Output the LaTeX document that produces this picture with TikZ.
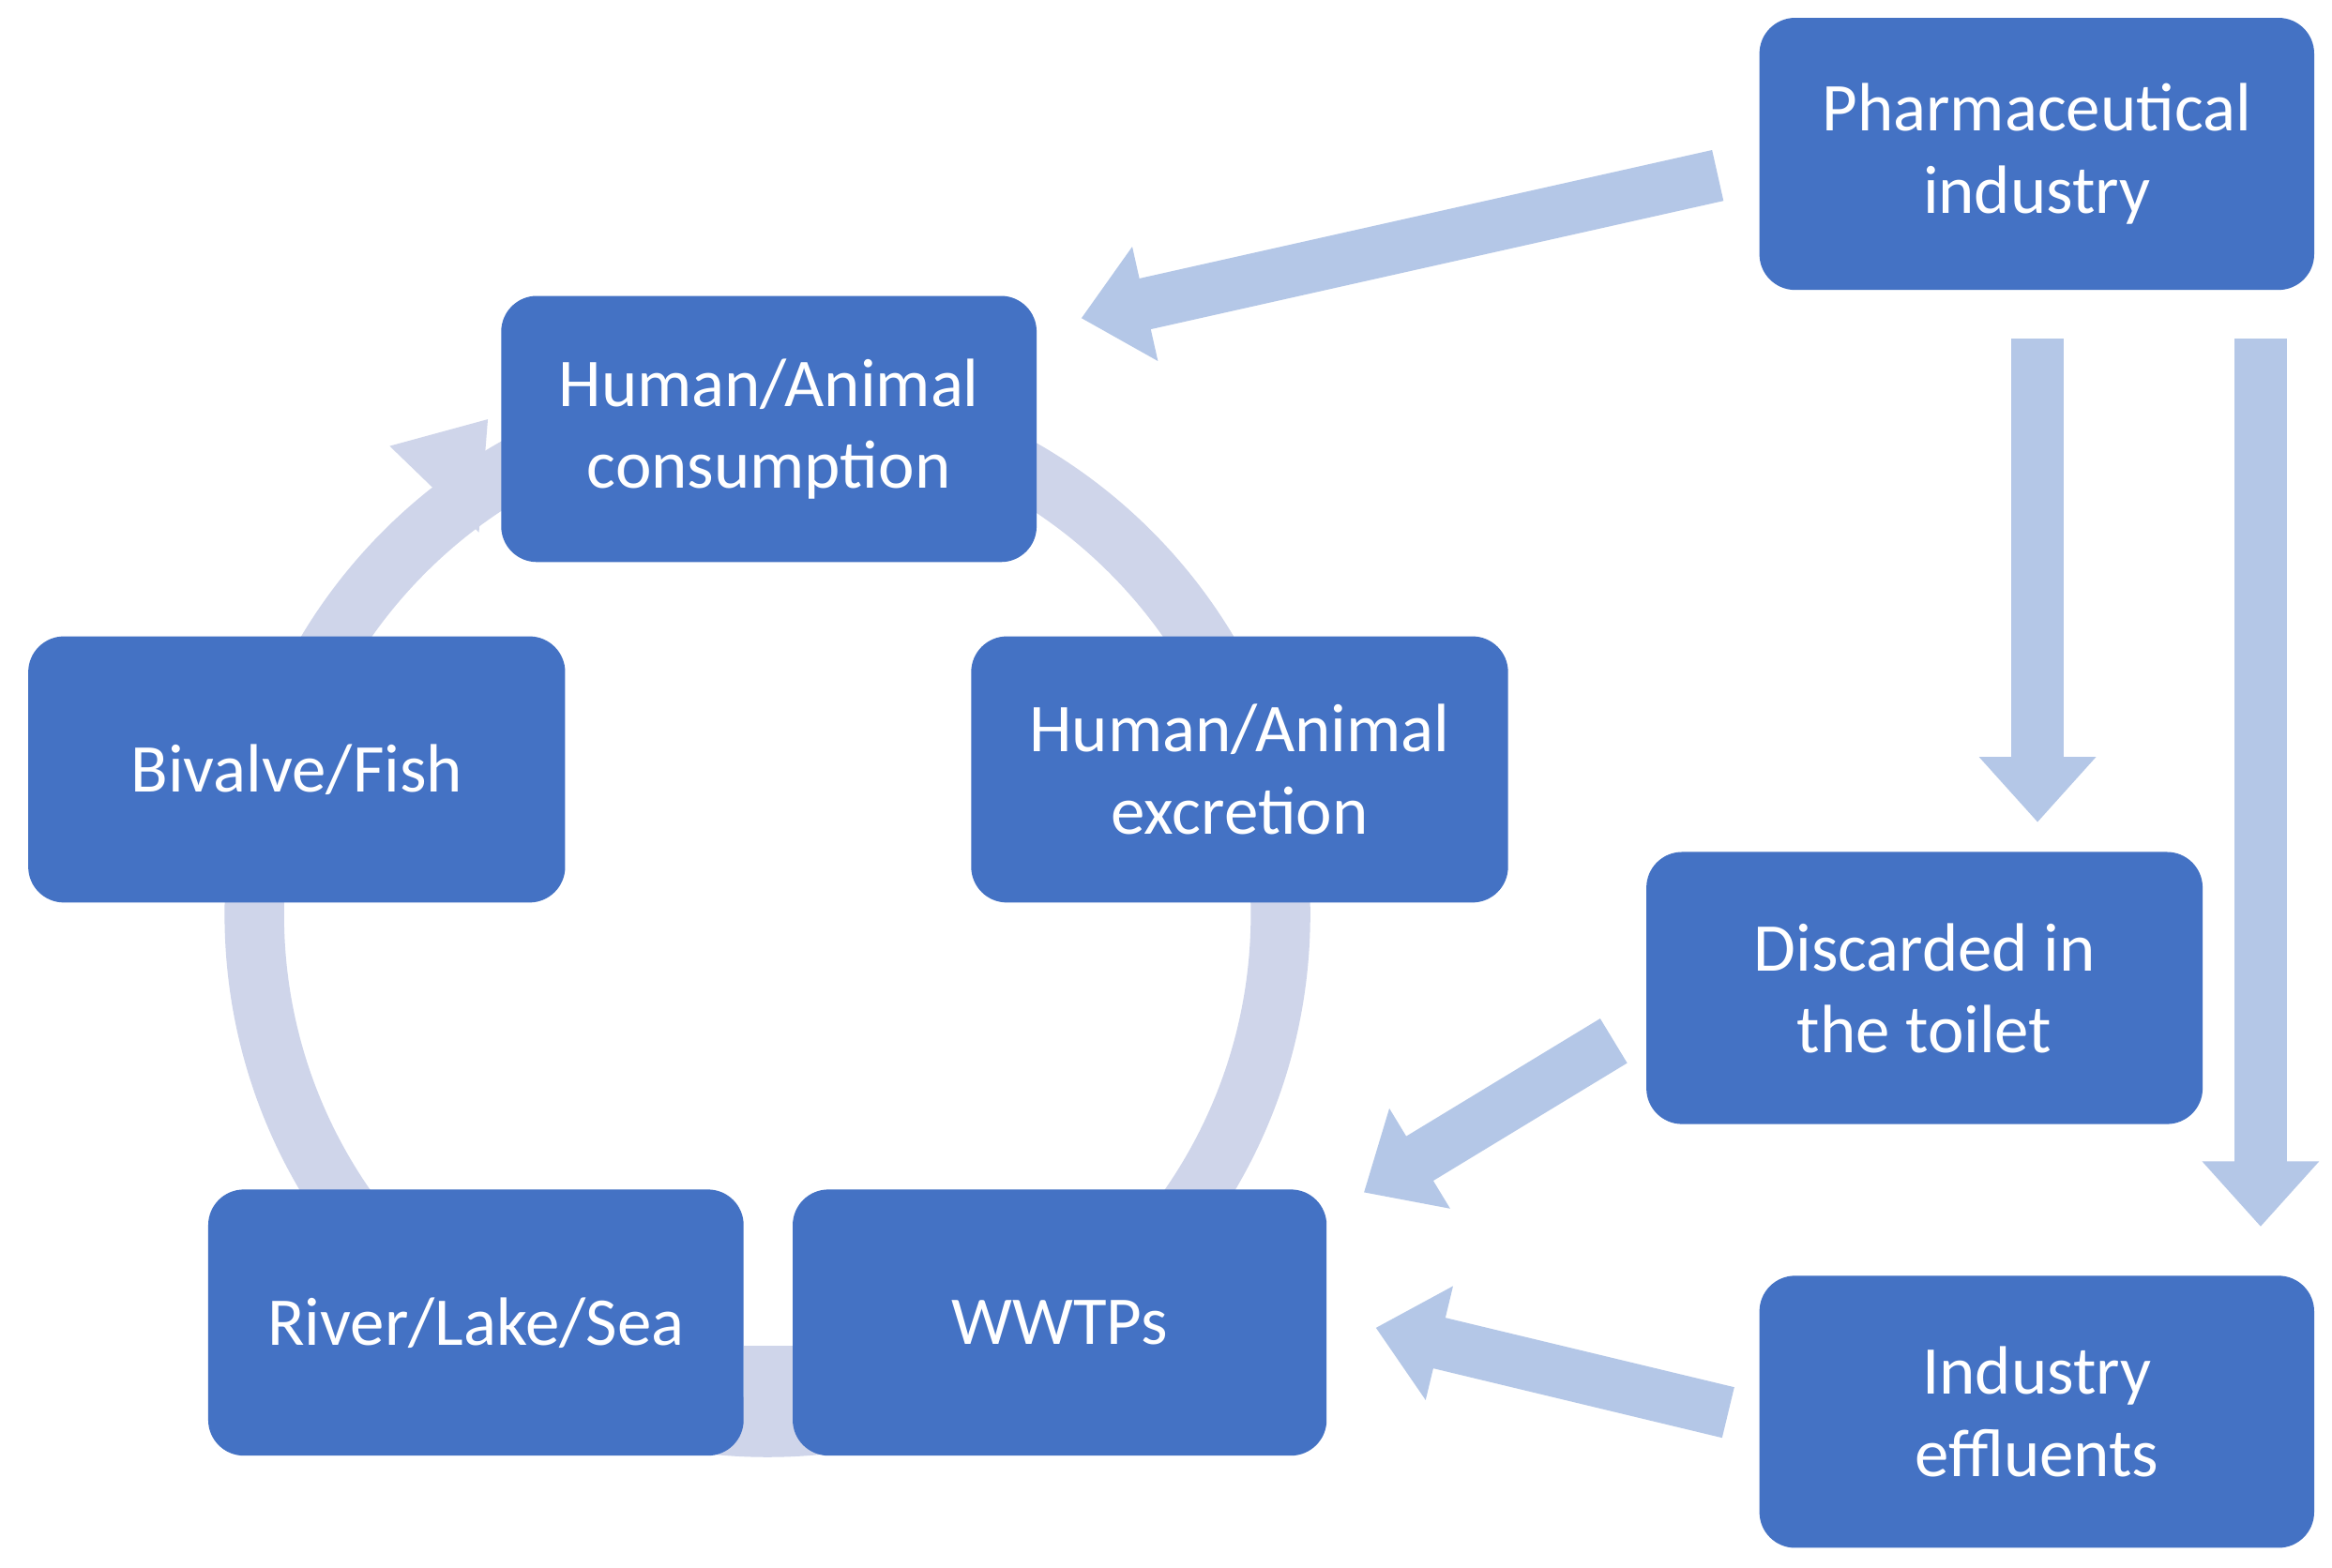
\documentclass[tikz,border=0pt]{standalone}
\usepackage{fontspec}
\setmainfont{Carlito}
\usetikzlibrary{arrows.meta}
\definecolor{boxblue}{HTML}{4472C4}
\definecolor{ringc}{HTML}{CFD5EA}
\definecolor{arrc}{HTML}{B4C7E7}
\begin{document}
\begin{tikzpicture}[x=0.5pt,y=-0.5pt,
  box/.style={fill=boxblue,draw=none,rounded corners=12pt,text=white,align=center,
    font=\fontsize{23}{27.5}\selectfont,inner sep=0pt},
  bigarr/.style={draw=arrc,line width=17.5pt,-{Triangle[width=38pt,length=22pt]}}]
\useasboundingbox (0,0) rectangle (1568,1054);
\fill[white] (0,0) rectangle (1568,1054);
% ring
\draw[ringc,line width=20pt] (516,615) circle[radius=345];
\fill[ringc] (500,905) rectangle (535,945);
\fill[ringc] (328,282) -- (262,300) -- (322,358) -- cycle;
% boxes
\node[box,minimum width=186.5pt,minimum height=91.5pt] (ph) at (1369.5,103.5) {Pharmaceutical\\industry};
\node[box,minimum width=180pt,minimum height=89.5pt] (hc) at (517,288.5) {Human/Animal\\consumption};
\node[box,minimum width=180.5pt,minimum height=89.5pt] (bf) at (199.5,517.5) {Bivalve/Fish};
\node[box,minimum width=180.5pt,minimum height=89.5pt] (he) at (833.5,517.5) {Human/Animal\\excretion};
\node[box,minimum width=187pt,minimum height=91.5pt] (dt) at (1294,664.5) {Discarded in\\the toilet};
\node[box,minimum width=180pt,minimum height=89.5pt] (rl) at (320,889.5) {River/Lake/Sea};
\node[box,minimum width=179.5pt,minimum height=89.5pt] (ww) at (712.5,889.5) {WWTPs};
\node[box,minimum width=186.5pt,minimum height=91.5pt] (ie) at (1369.5,949.5) {Industry\\effluents};
% arrows
\coordinate (a1s) at (1155,118); \coordinate (a1e) at (727,214);
\coordinate (a2s) at (1370,228); \coordinate (a2e) at (1370,553);
\coordinate (a3s) at (1520,228); \coordinate (a3e) at (1520,825);
\coordinate (a4s) at (1085,700); \coordinate (a4e) at (917,802);
\coordinate (a5s) at (1162,950); \coordinate (a5e) at (925,893);
\draw[bigarr] (a1s) -- (a1e);
\draw[bigarr] (a2s) -- (a2e);
\draw[bigarr] (a3s) -- (a3e);
\draw[bigarr] (a4s) -- (a4e);
\draw[bigarr] (a5s) -- (a5e);
\end{tikzpicture}
\end{document}
